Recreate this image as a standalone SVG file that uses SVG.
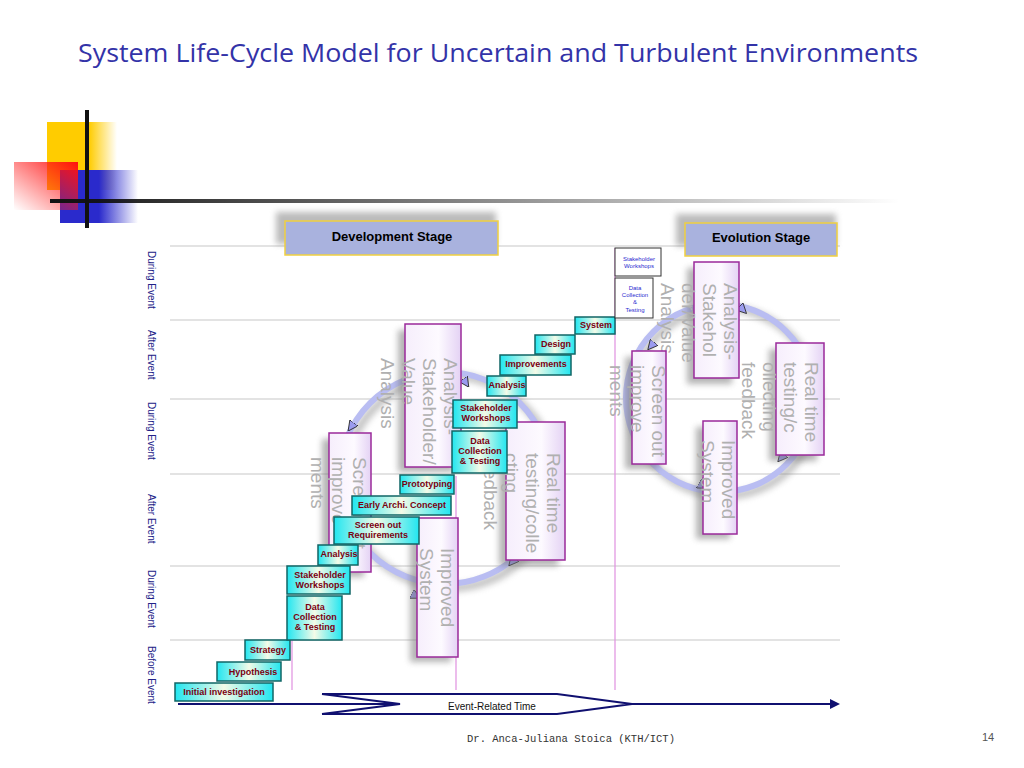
<svg xmlns="http://www.w3.org/2000/svg" width="1024" height="768" viewBox="0 0 1024 768">
<defs>
<linearGradient id="cy" x1="0" y1="0" x2="1" y2="0"><stop offset="0" stop-color="#22e6f0"/><stop offset="0.5" stop-color="#f4fbe8"/><stop offset="1" stop-color="#22e6f0"/></linearGradient>
<linearGradient id="lav" x1="0" y1="0" x2="1" y2="0"><stop offset="0" stop-color="#f6eefc"/><stop offset="0.6" stop-color="#fdfaff"/><stop offset="1" stop-color="#e4d2f4"/></linearGradient>
<linearGradient id="yel" x1="0" y1="0" x2="1" y2="0"><stop offset="0.6" stop-color="#ffcc00"/><stop offset="1" stop-color="#ffcc00" stop-opacity="0"/></linearGradient>
<linearGradient id="blu" x1="0" y1="0" x2="1" y2="0"><stop offset="0.5" stop-color="#2a2acc"/><stop offset="1" stop-color="#2a2acc" stop-opacity="0"/></linearGradient>
<linearGradient id="red" x1="1" y1="0" x2="0" y2="1"><stop offset="0" stop-color="#ff1010"/><stop offset="1" stop-color="#ff2020" stop-opacity="0"/></linearGradient>
<linearGradient id="hl" x1="0" y1="0" x2="1" y2="0"><stop offset="0" stop-color="#111"/><stop offset="1" stop-color="#111" stop-opacity="0"/></linearGradient>
<filter id="sh" x="-20%" y="-20%" width="150%" height="150%"><feGaussianBlur stdDeviation="3"/></filter>
<marker id="tri" viewBox="0 0 10 10" refX="5" refY="5" markerWidth="10" markerHeight="10" orient="auto"><path d="M0,0 L10,5 L0,10 z" fill="#9b9bef" stroke="#222" stroke-width="0.8"/></marker>
</defs>
<style>
.c rect{fill:url(#cy);stroke:#116666;stroke-width:1.5}
.c text{font-family:"Liberation Sans",Arial,sans-serif;font-weight:bold;fill:#7a0010;text-anchor:middle;font-size:9px}
.w rect{fill:#fff;stroke:#333;stroke-width:1}
.w text{font-family:"Liberation Sans",Arial,sans-serif;fill:#2a2ad0;text-anchor:middle;font-size:6px}
.b rect{fill:url(#lav);stroke:#9a2a9a;stroke-width:1.5}
.b .s{fill:#777;opacity:.55;stroke:none;filter:url(#sh)}
.bt{font-family:"Liberation Sans",Arial,sans-serif;font-size:19px;fill:#b0b0b0}
.gl{stroke:#c8c8c8;stroke-width:1.2}
.pk{stroke:#e090e0;stroke-width:1.2}
.lab{font-family:"Liberation Sans",Arial,sans-serif;font-size:10px;fill:#222288}
.ring{fill:none;stroke:#b9bdf2;stroke-width:6}
.rs{fill:none;stroke:#888;stroke-width:8;opacity:.5;filter:url(#sh)}
</style>
<rect width="1024" height="768" fill="#fff"/>
<text x="78" y="62" font-family="Open Sans,Liberation Sans,Arial,sans-serif" font-size="25" textLength="840" lengthAdjust="spacingAndGlyphs" fill="#3333a8">System Life-Cycle Model for Uncertain and Turbulent Environments</text>
<g id="logo">
<rect x="47" y="122" width="70" height="68" fill="url(#yel)"/>
<rect x="60" y="170" width="78" height="53" fill="url(#blu)"/>
<rect x="14" y="162" width="64" height="48" fill="url(#red)"/>
<rect x="85" y="110" width="4" height="118" fill="#111"/>
<rect x="50" y="199" width="850" height="4" fill="url(#hl)"/>
</g>
<g id="grid">
<line class="gl" x1="170" y1="246" x2="840" y2="246"/>
<line class="gl" x1="170" y1="320" x2="840" y2="320"/>
<line class="gl" x1="170" y1="399" x2="840" y2="399"/>
<line class="gl" x1="170" y1="474" x2="840" y2="474"/>
<line class="gl" x1="170" y1="566" x2="840" y2="566"/>
<line class="gl" x1="170" y1="640" x2="840" y2="640"/>
<line class="pk" x1="615" y1="248" x2="615" y2="690"/>
<line class="pk" x1="456" y1="476" x2="456" y2="690"/>
<line class="pk" x1="292" y1="640" x2="292" y2="690"/>
</g>
<g id="axis-labels" class="lab">
<text transform="translate(148,251) rotate(90)">During Event</text>
<text transform="translate(148,330) rotate(90)">After Event</text>
<text transform="translate(148,402) rotate(90)">During Event</text>
<text transform="translate(148,494) rotate(90)">After Event</text>
<text transform="translate(148,570) rotate(90)">During Event</text>
<text transform="translate(148,646) rotate(90)">Before Event</text>
</g>
<g id="stages" font-family="Liberation Sans,Arial,sans-serif" font-weight="bold" font-size="13" text-anchor="middle">
<g id="dev-stage"><rect x="276" y="212" width="220" height="32" fill="#777" opacity=".5" filter="url(#sh)"/><rect x="285" y="221" width="213" height="34" fill="#a9b2de" stroke="#f0d040" stroke-width="1.5"/><text x="392" y="241">Development Stage</text></g>
<g id="evo-stage"><rect x="676" y="214" width="160" height="32" fill="#777" opacity=".5" filter="url(#sh)"/><rect x="685" y="223" width="152" height="33" fill="#a9b2de" stroke="#f0d040" stroke-width="1.5"/><text x="761" y="242">Evolution Stage</text></g>
</g>
<g id="connectors">
<circle class="rs" cx="450" cy="482" r="106"/>
<circle class="ring" cx="445" cy="478" r="106"/>
<circle class="rs" cx="724" cy="402" r="94"/>
<circle class="ring" cx="720" cy="398" r="94"/>
<path d="M462,377 L466,383" stroke="none" marker-end="url(#tri)"/>
<path d="M356,420 L351,427" stroke="none" marker-end="url(#tri)"/>
<path d="M408,592 L416,596" stroke="none" marker-end="url(#tri)"/>
<path d="M517,556 L512,562" stroke="none" marker-end="url(#tri)"/>
<path d="M738,305 L743,310" stroke="none" marker-end="url(#tri)"/>
<path d="M656,340 L651,346" stroke="none" marker-end="url(#tri)"/>
<path d="M696,482 L703,486" stroke="none" marker-end="url(#tri)"/>
<path d="M786,452 L781,458" stroke="none" marker-end="url(#tri)"/>
<path d="M178,704 L400,704 M322,694 L400,704 L322,714 M322,694 L557,694 L632,704 L557,714 L322,714 M632,704 L832,704" fill="none" stroke="#101070" stroke-width="2"/>
<path d="M830,699 L840,704 L830,709 z" fill="#101070"/>
<text x="492" y="710" text-anchor="middle" font-family="Liberation Sans,Arial,sans-serif" font-size="10" fill="#111">Event-Related Time</text>
</g>
<g id="dev-cycle-boxes" class="b">
<g id="b-analysis"><rect class="s" x="398" y="330" width="56" height="142"/><rect x="405" y="324" width="56" height="143"/>
<text class="bt" transform="translate(444,358) rotate(90)"><tspan x="0" y="0">Analysis-</tspan><tspan x="0" y="21">Stakeholder/</tspan><tspan x="0" y="42">Value</tspan><tspan x="0" y="63">Analysis</tspan></text></g>
<g id="b-screen"><rect class="s" x="322" y="439" width="42" height="138"/><rect x="329" y="433" width="42" height="139"/>
<text class="bt" transform="translate(353,457) rotate(90)"><tspan x="0" y="0">Screen out</tspan><tspan x="0" y="21">improve</tspan><tspan x="0" y="42">ments</tspan></text></g>
<g id="b-real"><rect class="s" x="499" y="428" width="59" height="138"/><rect x="506" y="422" width="59" height="138"/>
<text class="bt" transform="translate(547,453) rotate(90)"><tspan x="0" y="0">Real time</tspan><tspan x="0" y="21">testing/colle</tspan><tspan x="0" y="42">cting</tspan><tspan x="0" y="63">feedback</tspan></text></g>
<g id="b-improved"><rect class="s" x="410" y="524" width="41" height="138"/><rect x="417" y="518" width="41" height="139"/>
<text class="bt" transform="translate(441,548) rotate(90)"><tspan x="0" y="0">Improved</tspan><tspan x="0" y="21">System</tspan></text></g>
</g>
<g id="evo-cycle-boxes" class="b">
<g id="e-analysis"><rect class="s" x="687" y="268" width="45" height="116"/><rect x="694" y="262" width="45" height="116"/>
<text class="bt" transform="translate(724,283) rotate(90)"><tspan x="0" y="0">Analysis-</tspan><tspan x="0" y="21">Stakehol</tspan><tspan x="0" y="42">der/Value</tspan><tspan x="0" y="63">Analysis</tspan></text></g>
<g id="e-real"><rect class="s" x="769" y="349" width="48" height="112"/><rect x="776" y="343" width="48" height="112"/>
<text class="bt" transform="translate(805,362) rotate(90)"><tspan x="0" y="0">Real time</tspan><tspan x="0" y="21">testing/c</tspan><tspan x="0" y="42">ollecting</tspan><tspan x="0" y="63">feedback</tspan></text></g>
<g id="e-improved"><rect class="s" x="696" y="427" width="34" height="112"/><rect x="703" y="421" width="34" height="113"/>
<text class="bt" transform="translate(722,440) rotate(90)"><tspan x="0" y="0">Improved</tspan><tspan x="0" y="21">System</tspan></text></g>
<g id="e-screen"><rect class="s" x="625" y="357" width="34" height="112"/><rect x="632" y="351" width="34" height="113"/>
<text class="bt" transform="translate(652,365) rotate(90)"><tspan x="0" y="0">Screen out</tspan><tspan x="0" y="21">improve</tspan><tspan x="0" y="42">ments</tspan></text></g>
</g>
<g id="steps" class="c">
<g id="s1"><rect x="175" y="683" width="98" height="18"/><text x="224" y="695" font-size="8">Initial investigation</text></g>
<g id="s2"><rect x="217" y="662" width="64" height="19"/><text x="253" y="675" font-size="8">Hypothesis</text></g>
<g id="s3"><rect x="245" y="640" width="45" height="20"/><text x="268" y="653" font-size="7.5">Strategy</text></g>
<g id="s4"><rect x="287" y="596" width="55" height="44"/><text x="315" y="610">Data</text><text x="315" y="620">Collection</text><text x="315" y="630">&amp; Testing</text></g>
<g id="s5"><rect x="287" y="566" width="63" height="28"/><text x="320" y="578">Stakeholder</text><text x="320" y="588">Workshops</text></g>
<g id="s6"><rect x="318" y="545" width="40" height="20"/><text x="339" y="557" font-size="7.5">Analysis</text></g>
<g id="s7"><rect x="334" y="517" width="85" height="27"/><text x="378" y="528">Screen out</text><text x="378" y="538">Requirements</text></g>
<g id="s8"><rect x="352" y="496" width="99" height="19"/><text x="402" y="508" font-size="7.5">Early Archi. Concept</text></g>
<g id="s9"><rect x="400" y="475" width="54" height="19"/><text x="427" y="487" font-size="7.5">Prototyping</text></g>
<g id="s10"><rect x="452" y="431" width="55" height="42"/><text x="480" y="444">Data</text><text x="480" y="454">Collection</text><text x="480" y="464">&amp; Testing</text></g>
<g id="s11"><rect x="453" y="400" width="64" height="28"/><text x="486" y="411">Stakeholder</text><text x="486" y="421">Workshops</text></g>
<g id="s12"><rect x="487" y="376" width="39" height="20"/><text x="507" y="388" font-size="7.5">Analysis</text></g>
<g id="s13"><rect x="500" y="355" width="71" height="20"/><text x="536" y="367" font-size="7.5">Improvements</text></g>
<g id="s14"><rect x="535" y="335" width="40" height="19"/><text x="556" y="347" font-size="7.5">Design</text></g>
<g id="s15"><rect x="575" y="317" width="40" height="17"/><text x="596" y="328" font-size="7.5">System</text></g>
</g>
<g id="evo-steps" class="w">
<g id="w1"><rect x="615" y="248" width="46" height="28"/><text x="639" y="261">Stakeholder</text><text x="639" y="268">Workshops</text></g>
<g id="w2"><rect x="615" y="278" width="38" height="40"/><text x="635" y="290">Data</text><text x="635" y="297">Collection</text><text x="635" y="304">&amp;</text><text x="635" y="312">Testing</text></g>
</g>
<text x="571" y="742" text-anchor="middle" font-family="Liberation Mono,monospace" font-size="10.5" fill="#333">Dr. Anca-Juliana Stoica (KTH/ICT)</text>
<text x="988" y="741" text-anchor="middle" font-family="Liberation Sans,sans-serif" font-size="11" fill="#555">14</text>
</svg>
